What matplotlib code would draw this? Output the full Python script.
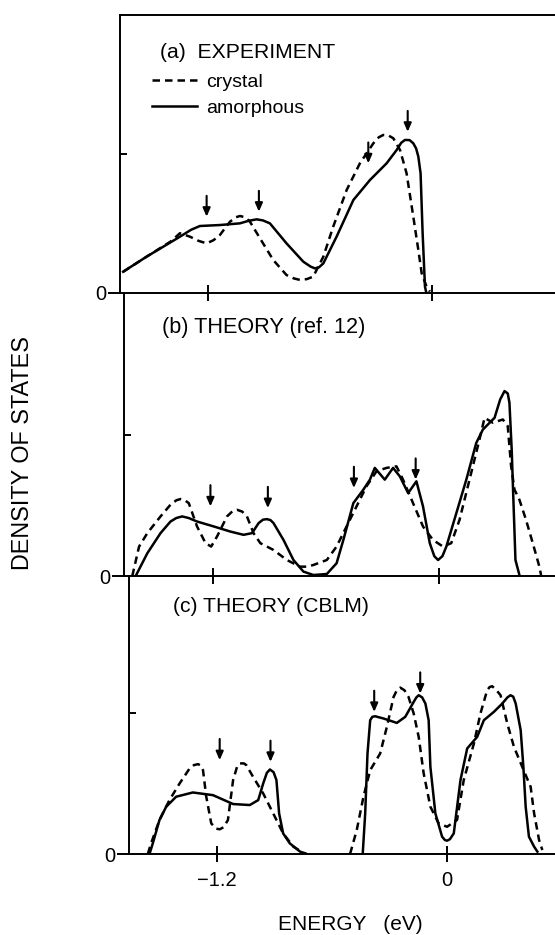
import matplotlib
matplotlib.use("Agg")
import matplotlib.pyplot as plt
from matplotlib.lines import Line2D

plt.rcParams['font.family'] = ['Liberation Sans', 'DejaVu Sans']

# ---------------- data (energy in eV, density of states in arbitrary units) ----------------
# (a) EXPERIMENT
a_cry_E = [-1.654, -1.529, -1.40, -1.35, -1.296, -1.250, -1.207, -1.170, -1.136, -1.082, -1.050,
           -1.029, -1.000, -0.975, -0.921, -0.850, -0.779, -0.740, -0.707, -0.670, -0.636, -0.582,
           -0.529, -0.457, -0.386, -0.314, -0.285, -0.261, -0.235, -0.207, -0.171, -0.136, -0.100,
           -0.073, -0.055, -0.029, -0.011]
a_cry_y = [0.153, 0.261, 0.37, 0.43, 0.405, 0.375, 0.357, 0.380, 0.417, 0.513, 0.545,
           0.554, 0.545, 0.513, 0.393, 0.237, 0.129, 0.105, 0.094, 0.100, 0.118, 0.261,
           0.477, 0.741, 0.933, 1.077, 1.120, 1.137, 1.135, 1.113, 1.029, 0.861, 0.549,
           0.309, 0.141, 0.046, 0.010]
a_amo_E = [-1.654, -1.529, -1.350, -1.290, -1.243, -1.136, -1.029, -0.980, -0.939, -0.905, -0.868,
           -0.779, -0.689, -0.650, -0.627, -0.605, -0.582, -0.511, -0.421, -0.332, -0.243, -0.189,
           -0.165, -0.145, -0.120, -0.100, -0.085, -0.073, -0.061, -0.050, -0.0375, -0.030]
a_amo_y = [0.153, 0.261, 0.405, 0.455, 0.482, 0.489, 0.501, 0.520, 0.530, 0.522, 0.501,
           0.357, 0.225, 0.190, 0.177, 0.185, 0.213, 0.405, 0.669, 0.813, 0.933, 1.029,
           1.080, 1.101, 1.100, 1.077, 1.040, 0.981, 0.861, 0.429, 0.046, 0.0]
a_arrow_E = [-1.207, -0.927, -0.341, -0.130]
a_arrow_y = [0.549, 0.585, 0.933, 1.160]

# (b) THEORY (ref. 12)
b_cry_E = [-1.629, -1.593, -1.549, -1.479, -1.426, -1.395, -1.373, -1.350, -1.329, -1.285, -1.240,
           -1.210, -1.179, -1.126, -1.095, -1.073, -1.045, -1.020, -0.985, -0.949, -0.879, -0.808,
           -0.738, -0.700, -0.667, -0.596, -0.544, -0.491, -0.438, -0.385, -0.332, -0.279, -0.226,
           -0.191, -0.138, -0.085, -0.032, 0.021, 0.065, 0.109, 0.162, 0.215, 0.242, 0.286, 0.339,
           0.365, 0.383, 0.401, 0.427, 0.462, 0.498, 0.533, 0.542]
b_cry_y = [0.0, 0.208, 0.303, 0.421, 0.504, 0.535, 0.544, 0.535, 0.515, 0.350, 0.232,
           0.208, 0.279, 0.421, 0.460, 0.468, 0.455, 0.421, 0.303, 0.232, 0.184, 0.113,
           0.066, 0.066, 0.078, 0.113, 0.208, 0.350, 0.492, 0.634, 0.740, 0.764, 0.775,
           0.681, 0.515, 0.350, 0.255, 0.208, 0.232, 0.397, 0.681, 0.965, 1.118, 1.083, 1.106,
           1.059, 0.775, 0.610, 0.539, 0.397, 0.232, 0.066, 0.007]
b_amo_E = [-1.611, -1.549, -1.479, -1.426, -1.395, -1.364, -1.330, -1.285, -1.196, -1.108, -1.038,
           -0.993, -0.958, -0.935, -0.914, -0.895, -0.879, -0.826, -0.773, -0.720, -0.667, -0.596,
           -0.544, -0.508, -0.455, -0.402, -0.367, -0.341, -0.288, -0.244, -0.208, -0.164, -0.120,
           -0.085, -0.049, -0.025, -0.005, 0.018, 0.039, 0.092, 0.145, 0.198, 0.233, 0.295, 0.325,
           0.348, 0.365, 0.374, 0.386, 0.395, 0.406, 0.427]
b_amo_y = [0.0, 0.161, 0.303, 0.385, 0.410, 0.421, 0.410, 0.385, 0.350, 0.314, 0.291,
           0.303, 0.374, 0.398, 0.402, 0.395, 0.374, 0.255, 0.113, 0.031, 0.007, 0.014,
           0.090, 0.255, 0.515, 0.610, 0.681, 0.764, 0.681, 0.764, 0.704, 0.586, 0.669,
           0.492, 0.232, 0.140, 0.113, 0.140, 0.208, 0.444, 0.681, 0.941, 1.035, 1.118, 1.248,
           1.307, 1.290, 1.225, 0.894, 0.539, 0.113, 0.007]
b_arrow_E = [-1.214, -0.909, -0.452, -0.124]
b_arrow_y = [0.492, 0.480, 0.622, 0.681]

# (c) THEORY (CBLM)
c_cry_E = [-1.561, -1.544, -1.500, -1.448, -1.395, -1.343, -1.320, -1.299, -1.283, -1.273, -1.256,
           -1.230, -1.205, -1.186, -1.165, -1.143, -1.116, -1.095, -1.081, -1.060, -1.047, -1.012,
           -0.959, -0.907, -0.855, -0.802, -0.750, -0.733,
           None,
           -0.506, -0.471, -0.436, -0.401, -0.349, -0.314, -0.279, -0.262, -0.244, -0.222, -0.201,
           -0.174, -0.148, -0.122, -0.087, -0.044, 0.000, 0.052, 0.087, 0.140, 0.174, 0.209, 0.222,
           0.235, 0.255, 0.279, 0.314, 0.349, 0.392, 0.436, 0.454, 0.480, 0.497]
c_cry_y = [0.0, 0.075, 0.241, 0.382, 0.500, 0.606, 0.630, 0.637, 0.625, 0.594, 0.406,
           0.217, 0.180, 0.175, 0.190, 0.241, 0.524, 0.620, 0.642, 0.642, 0.630, 0.547,
           0.429, 0.288, 0.146, 0.052, 0.009, 0.0,
           None,
           0.0, 0.170, 0.406, 0.594, 0.712, 0.901, 1.113, 1.160, 1.179, 1.160, 1.113,
           0.995, 0.830, 0.571, 0.335, 0.217, 0.193, 0.241, 0.524, 0.783, 0.995, 1.160, 1.183,
           1.189, 1.165, 1.125, 0.925, 0.759, 0.618, 0.476, 0.288, 0.099, 0.028]
c_amo_E = [-1.552, -1.535, -1.500, -1.465, -1.413, -1.326, -1.221, -1.116, -1.029, -0.985, -0.959,
           -0.940, -0.924, -0.905, -0.890, -0.876, -0.855, -0.820, -0.767, -0.733,
           None,
           -0.440, -0.427, -0.415, -0.401, -0.390, -0.375, -0.331, -0.262, -0.218, -0.174, -0.160,
           -0.148, -0.130, -0.113, -0.096, -0.087, -0.061, -0.026, -0.012, 0.000, 0.015, 0.035,
           0.070, 0.105, 0.157, 0.192, 0.244, 0.288, 0.315, 0.331, 0.345, 0.358, 0.384, 0.398,
           0.410, 0.427, 0.454, 0.471]
c_amo_y = [0.0, 0.075, 0.241, 0.335, 0.406, 0.436, 0.417, 0.354, 0.347, 0.382, 0.500,
           0.575, 0.599, 0.580, 0.524, 0.288, 0.146, 0.075, 0.017, 0.0,
           None,
           0.0, 0.288, 0.712, 0.948, 0.972, 0.976, 0.960, 0.929, 0.972, 1.078, 1.110,
           1.125, 1.110, 1.066, 0.948, 0.618, 0.288, 0.123, 0.100, 0.094, 0.105, 0.146,
           0.524, 0.748, 0.830, 0.948, 1.007, 1.066, 1.110, 1.125, 1.115, 1.066, 0.877, 0.618,
           0.335, 0.123, 0.052, 0.017]
c_arrow_E = [-1.186, -0.921, -0.380, -0.140]
c_arrow_y = [0.665, 0.653, 1.007, 1.137]

x_ticks = [-1.2, 0.0]
x_ticklabels = ["\u22121.2", "0"]
panel_titles = ["(a)  EXPERIMENT", "(b) THEORY (ref. 12)", "(c) THEORY (CBLM)"]
series_names = ["crystal", "amorphous"]

# ---------------- figure ----------------
W, H = 555, 935
fig = plt.figure(figsize=(W / 100, H / 100), dpi=100)
fig.patch.set_facecolor("white")

def px_rect(left, top, bottom):
    return [left / W, 1 - bottom / H, (W - left) / W, (bottom - top) / H]

axes_specs = [
    dict(rect=px_rect(120, 15, 293), xlim=(-1.671, 0.659), ylim=(0, 2.0), top=True),
    dict(rect=px_rect(124, 293, 576), xlim=(-1.673, 0.616), ylim=(0, 2.0), top=False),
    dict(rect=px_rect(129, 576, 854), xlim=(-1.659, 0.563), ylim=(0, 1.97), top=False),
]
datasets = [
    (a_cry_E, a_cry_y, a_amo_E, a_amo_y, a_arrow_E, a_arrow_y),
    (b_cry_E, b_cry_y, b_amo_E, b_amo_y, b_arrow_E, b_arrow_y),
    (c_cry_E, c_cry_y, c_amo_E, c_amo_y, c_arrow_E, c_arrow_y),
]

dash = (0, (3.0, 2.0))
lw = 1.8
axes = []
for i, (spec, data) in enumerate(zip(axes_specs, datasets)):
    ax = fig.add_axes(spec["rect"])
    ax.set_facecolor("none")
    ce, cy, ae, ay, arE, arY = data
    ax.plot(ce, cy, color="black", lw=lw, linestyle=dash, label=series_names[0],
            solid_joinstyle="round", dash_joinstyle="round")
    ax.plot(ae, ay, color="black", lw=lw, linestyle="-", label=series_names[1],
            solid_joinstyle="round")
    for e, y in zip(arE, arY):
        ax.annotate("", xy=(e, y), xytext=(e, y + 0.15),
                    arrowprops=dict(arrowstyle="-|>,head_length=0.5,head_width=0.22",
                                    color="black", lw=1.5, shrinkA=0, shrinkB=0))
    ax.set_xlim(*spec["xlim"])
    ax.set_ylim(*spec["ylim"])
    for s in ["left", "bottom", "top", "right"]:
        ax.spines[s].set_linewidth(1.4)
    ax.spines["right"].set_visible(False)
    ax.spines["top"].set_visible(spec["top"])
    ax.set_xticks(x_ticks)
    ax.tick_params(axis="x", direction="inout", length=12, width=1.4, pad=6,
                   labelsize=14.5, labelbottom=(i == 2))
    if i == 2:
        ax.set_xticklabels(x_ticklabels)
    ax.set_yticks([0])
    ax.set_yticklabels(["0"])
    ax.tick_params(axis="y", which="major", direction="out", length=9, width=1.4, pad=1,
                   labelsize=14.5)
    ax.set_yticks([1], minor=True)
    ax.tick_params(axis="y", which="minor", direction="in", length=5, width=1.4)
    axes.append(ax)

# legend in panel (a)
handles = [Line2D([], [], color="black", lw=lw, linestyle=dash),
           Line2D([], [], color="black", lw=lw, linestyle="-")]
axes[0].legend(handles, series_names, loc="upper left",
               bbox_to_anchor=(152 / W, 1 - 73 / H), bbox_transform=fig.transFigure,
               frameon=False, fontsize=14, handlelength=2.3, handletextpad=0.5,
               labelspacing=0.45, borderpad=0, borderaxespad=0)

# panel titles
fig.text(160 / W, 1 - 52 / H, panel_titles[0], fontsize=15.2, va="center", ha="left")
fig.text(162 / W, 1 - 328 / H, panel_titles[1], fontsize=15.6, va="center", ha="left")
fig.text(173 / W, 1 - 607 / H, panel_titles[2], fontsize=15.2, va="center", ha="left")

# axis labels
fig.text(23 / W, 1 - 453 / H, "DENSITY OF STATES", rotation=90, fontsize=16.8,
         va="center", ha="center")
fig.text(350 / W, 1 - 924 / H, "ENERGY   (eV)", fontsize=15, va="center", ha="center")

fig.savefig("out.png", dpi=100)
